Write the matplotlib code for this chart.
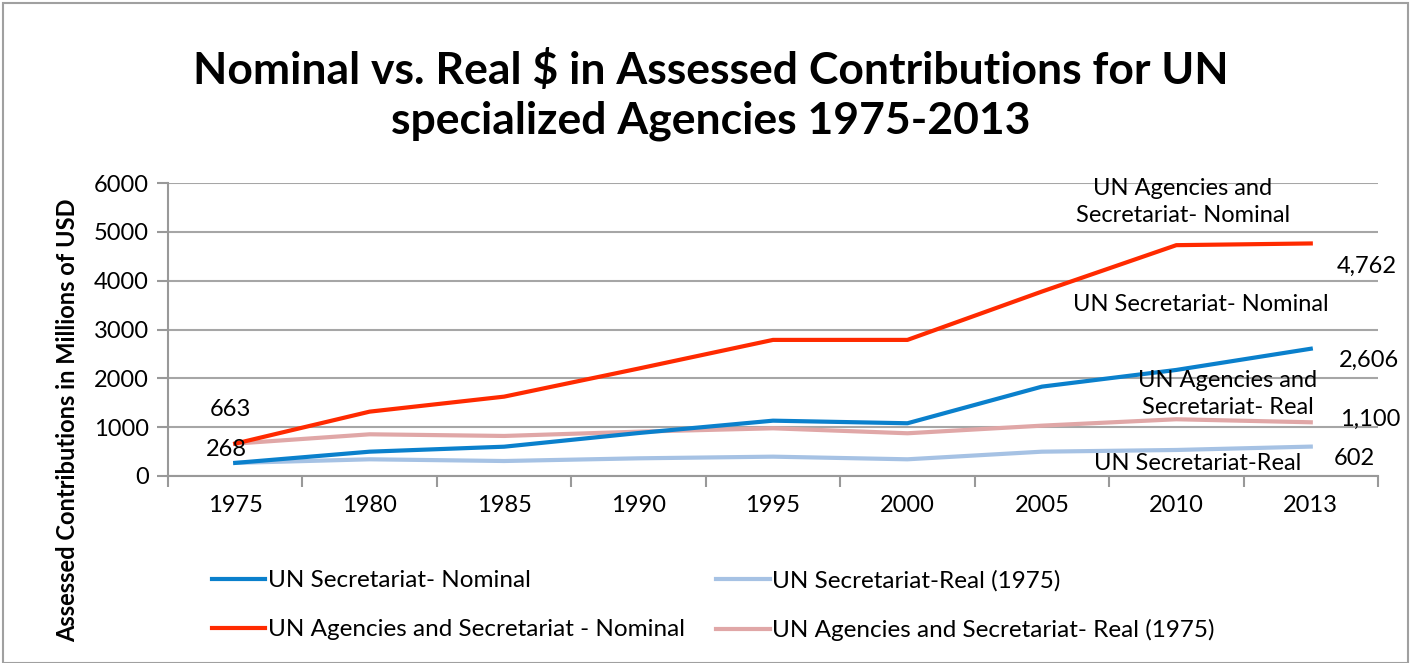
import matplotlib.pyplot as plt
from matplotlib.patches import Rectangle

years = ["1975", "1980", "1985", "1990", "1995", "2000", "2005", "2010", "2013"]
sec_nominal = [268, 498, 600, 880, 1133, 1080, 1830, 2172, 2606]
sec_real = [268, 342, 307, 362, 396, 342, 498, 533, 602]
agency_nominal = [663, 1318, 1625, 2200, 2787, 2787, 3777, 4727, 4762]
agency_real = [663, 854, 820, 908, 977, 875, 1031, 1162, 1100]

plt.rcParams['font.family'] = ['Lato', 'DejaVu Sans']
FS = 17

fig = plt.figure(figsize=(14.2, 6.63), dpi=100)
ax = fig.add_axes([168/1420, 1 - 476/663, 1210/1420, 293/663])

x = list(range(len(years)))
l1, = ax.plot(x, sec_nominal, color='#0a80cc', lw=3, label="UN Secretariat- Nominal")
l2, = ax.plot(x, sec_real, color='#a6c2e4', lw=3, label="UN Secretariat-Real (1975)")
l3, = ax.plot(x, agency_nominal, color='#ff2a00', lw=3, label="UN Agencies and Secretariat - Nominal")
l4, = ax.plot(x, agency_real, color='#e0a7a7', lw=3, label="UN Agencies and Secretariat- Real (1975)")
for ln in (l3, l1):
    ln.set_zorder(3)

ax.set_xlim(-0.5, len(years) - 0.5)
ax.set_ylim(0, 6000)
ax.set_yticks(range(0, 6001, 1000))
ax.set_xticks(x)
ax.set_xticklabels(years)
ax.set_xticks([i - 0.5 for i in range(len(years) + 1)], minor=True)
ax.tick_params(axis='x', which='major', length=0, pad=14, labelsize=FS)
ax.tick_params(axis='x', which='minor', length=8, color='#999999', width=1.5)
ax.tick_params(axis='y', length=8, color='#999999', width=1.5, labelsize=FS, pad=6)
ax.grid(axis='y', color='#a6a6a6', lw=1.5)
for s in ('top', 'right'):
    ax.spines[s].set_visible(False)
for s in ('left', 'bottom'):
    ax.spines[s].set_color('#999999')
    ax.spines[s].set_linewidth(1.5)

# data labels
kw = dict(textcoords='offset points', fontsize=FS, ha='center', va='center')
ax.annotate("663", (0, agency_nominal[0]), xytext=(-3.6, 24.5), **kw)
ax.annotate("268", (0, sec_nominal[0]), xytext=(-6.5, 9.4), **kw)
ax.annotate("4,762", (8, agency_nominal[-1]), xytext=(40, -16.5), **kw)
ax.annotate("2,606", (8, sec_nominal[-1]), xytext=(41.8, -8.6), **kw)
ax.annotate("1,100", (8, agency_real[-1]), xytext=(42.5, 2.2), **kw)
ax.annotate("602", (8, sec_real[-1]), xytext=(31.7, -8.6), **kw)

# series name labels
fig.text(1183/1420, 1 - 202/663, "UN Agencies and\nSecretariat- Nominal", fontsize=FS,
         ha='center', va='center', linespacing=1.3)
fig.text(1201/1420, 1 - 305/663, "UN Secretariat- Nominal", fontsize=FS,
         ha='center', va='center')
fig.text(1228/1420, 1 - 394/663, "UN Agencies and\nSecretariat- Real", fontsize=FS,
         ha='center', va='center', linespacing=1.3)
fig.text(1198/1420, 1 - 463/663, "UN Secretariat-Real", fontsize=FS,
         ha='center', va='center')

fig.text(711/1420, 1 - 95/663,
         "Nominal vs. Real $ in Assessed Contributions for UN\nspecialized Agencies 1975-2013",
         fontsize=32, fontweight='bold', ha='center', va='center', linespacing=1.3)
fig.text(68/1420, 1 - 420/663, "Assessed Contributions in Millions of USD", rotation=90,
         fontsize=17, fontweight='bold', ha='center', va='center')

fig.legend(handles=[l1, l3, l2, l4], ncol=2, loc='upper left',
           bbox_to_anchor=(190/1420, 1 - 548/663), frameon=False, fontsize=17.5,
           handlelength=2.2, handletextpad=0.1, columnspacing=1.3, labelspacing=1.15)

fig.add_artist(Rectangle((3/1420, 0), 1405/1420, 1 - 3/663, transform=fig.transFigure,
                         fill=False, edgecolor='#a0a0a0', lw=1.5))

fig.savefig("out.png", dpi=100)
